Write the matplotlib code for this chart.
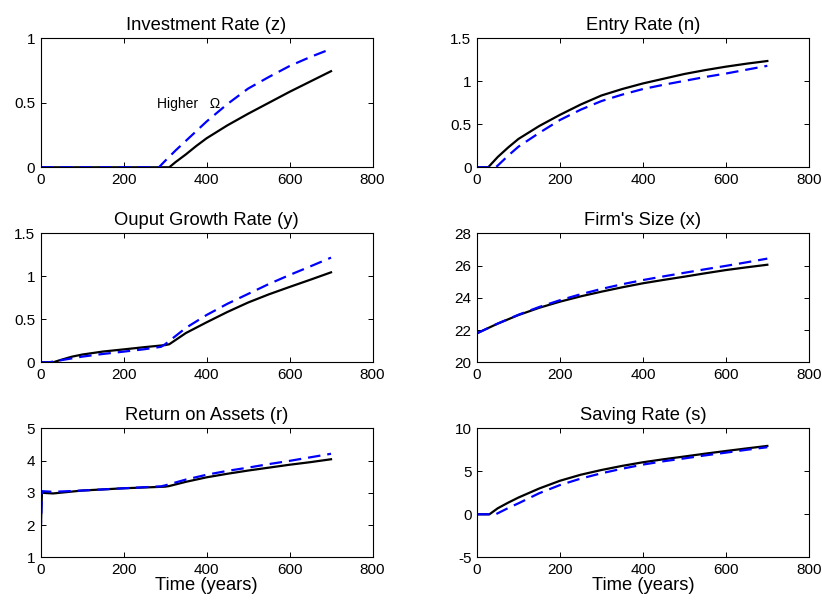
import matplotlib
matplotlib.use("Agg")
import matplotlib.pyplot as plt

plt.rcParams['font.family'] = ['Liberation Sans', 'DejaVu Sans']
plt.rcParams['lines.scale_dashes'] = False

# ---- data ----
# Investment rate z
z_t_base = [0, 100, 200, 300, 310, 325, 350, 375, 400, 450, 500, 550, 600, 650, 700]
z_base   = [0, 0, 0, 0, 0.0, 0.04, 0.10, 0.165, 0.225, 0.325, 0.415, 0.50, 0.585, 0.665, 0.745]
z_t_high = [0, 100, 200, 285, 300, 325, 350, 375, 400, 450, 500, 550, 600, 650, 700]
z_high   = [0, 0, 0, 0.0, 0.05, 0.13, 0.205, 0.28, 0.355, 0.49, 0.61, 0.70, 0.785, 0.855, 0.918]

# Entry rate n
n_t_base = [0, 27, 50, 75, 100, 150, 200, 250, 300, 350, 400, 450, 500, 550, 600, 650, 700]
n_base   = [0, 0, 0.12, 0.23, 0.33, 0.48, 0.61, 0.73, 0.835, 0.91, 0.975, 1.03, 1.085, 1.13, 1.17, 1.205, 1.236]
n_t_high = [0, 45, 50, 75, 100, 150, 200, 250, 300, 350, 400, 450, 500, 550, 600, 650, 700]
n_high   = [0, 0, 0.02, 0.135, 0.24, 0.40, 0.55, 0.67, 0.77, 0.845, 0.91, 0.96, 1.005, 1.05, 1.09, 1.135, 1.18]

# Output growth rate y
y_t_base = [0, 30, 50, 75, 100, 150, 200, 250, 300, 310, 350, 400, 450, 500, 550, 600, 650, 700]
y_base   = [0, 0, 0.03, 0.065, 0.09, 0.125, 0.15, 0.176, 0.20, 0.21, 0.34, 0.465, 0.585, 0.695, 0.79, 0.876, 0.96, 1.046]
y_t_high = [0, 20, 50, 100, 150, 200, 250, 290, 300, 350, 400, 450, 500, 550, 600, 650, 700]
y_high   = [0, 0, 0.025, 0.066, 0.097, 0.124, 0.152, 0.18, 0.21, 0.40, 0.55, 0.68, 0.795, 0.91, 1.015, 1.115, 1.217]

# Firm's size x
x_t      = [0, 50, 100, 150, 200, 250, 300, 350, 400, 450, 500, 550, 600, 650, 700]
x_base   = [21.8, 22.4, 22.93, 23.38, 23.76, 24.09, 24.38, 24.65, 24.9, 25.11, 25.31, 25.52, 25.72, 25.89, 26.05]
x_high   = [21.8, 22.4, 22.95, 23.43, 23.85, 24.22, 24.55, 24.84, 25.1, 25.33, 25.55, 25.77, 25.98, 26.2, 26.43]

# Return on assets r
r_t_base = [0, 3, 30, 100, 200, 300, 310, 350, 400, 450, 500, 550, 600, 650, 700]
r_base   = [1.75, 3.0, 2.98, 3.07, 3.14, 3.19, 3.21, 3.34, 3.48, 3.59, 3.69, 3.78, 3.87, 3.95, 4.04]
r_t_high = [0, 3, 30, 100, 200, 290, 300, 350, 400, 450, 500, 550, 600, 650, 700]
r_high   = [1.75, 3.05, 3.03, 3.07, 3.14, 3.20, 3.23, 3.41, 3.56, 3.68, 3.78, 3.89, 3.99, 4.1, 4.21]

# Saving rate s
s_t_base = [0, 30, 50, 75, 100, 150, 200, 250, 300, 350, 400, 450, 500, 550, 600, 650, 700]
s_base   = [0, 0, 0.7, 1.35, 1.95, 3.0, 3.9, 4.6, 5.15, 5.63, 6.05, 6.4, 6.72, 7.05, 7.36, 7.66, 7.95]
s_t_high = [0, 45, 50, 75, 100, 150, 200, 250, 300, 350, 400, 450, 500, 550, 600, 650, 700]
s_high   = [0, 0, 0.12, 0.72, 1.28, 2.45, 3.4, 4.15, 4.77, 5.3, 5.78, 6.17, 6.5, 6.85, 7.17, 7.5, 7.8]

titles = ["Investment Rate (z)", "Entry Rate (n)", "Ouput Growth Rate (y)",
          "Firm's Size (x)", "Return on Assets (r)", "Saving Rate (s)"]
ylims = [(0, 1), (0, 1.5), (0, 1.5), (20, 28), (1, 5), (-5, 10)]
yticks = [[0, 0.5, 1], [0, 0.5, 1, 1.5], [0, 0.5, 1, 1.5], [20, 22, 24, 26, 28],
          [1, 2, 3, 4, 5], [-5, 0, 5, 10]]
yticklabels = [["0", "0.5", "1"], ["0", "0.5", "1", "1.5"], ["0", "0.5", "1", "1.5"],
               ["20", "22", "24", "26", "28"], ["1", "2", "3", "4", "5"],
               ["-5", "0", "5", "10"]]
xticks = [0, 200, 400, 600, 800]
xticklabels = ["0", "200", "400", "600", "800"]

series = [
    (z_t_base, z_base, z_t_high, z_high),
    (n_t_base, n_base, n_t_high, n_high),
    (y_t_base, y_base, y_t_high, y_high),
    (x_t, x_base, x_t, x_high),
    (r_t_base, r_base, r_t_high, r_high),
    (s_t_base, s_base, s_t_high, s_high),
]

W, H = 822, 600
fig = plt.figure(figsize=(W / 100, H / 100), dpi=100)

lefts = [40.7 / W, 477.0 / W]
width = 331.8 / W
bottoms = [1 - 167.3 / H, 1 - 362.3 / H, 1 - 557.3 / H]
height = 129.0 / H

for i in range(6):
    row, col = divmod(i, 2)
    ax = fig.add_axes([lefts[col], bottoms[row], width, height])
    tb, yb, th, yh = series[i]
    ax.plot(tb, yb, color='black', lw=1.6, solid_joinstyle='round')
    ax.plot(th, yh, color=(0, 0, 1), lw=1.6, linestyle=(0, (9, 5)))
    ax.set_xlim(0, 800)
    ax.set_ylim(*ylims[i])
    ax.set_xticks(xticks)
    ax.set_xticklabels(xticklabels)
    ax.set_yticks(yticks[i])
    ax.set_yticklabels(yticklabels[i])
    ax.tick_params(direction='in', top=True, right=True, length=3.5, width=0.7,
                   labelsize=11, pad=4)
    for sp in ax.spines.values():
        sp.set_linewidth(0.8)
    ax.set_title(titles[i], fontsize=13.2, pad=6)
    if row == 2:
        ax.set_xlabel("Time (years)", fontsize=13.2, labelpad=0)
    if i == 0:
        ax.text(280, 0.49, "Higher   \u03a9", fontsize=10, ha='left', va='center')

fig.savefig("out.png", dpi=100)
